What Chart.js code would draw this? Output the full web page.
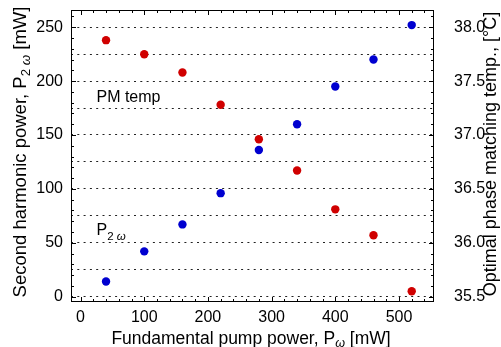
<!DOCTYPE html>
<html>
<head>
<meta charset="utf-8">
<script src="https://cdn.jsdelivr.net/npm/chart.js@4.4.1/dist/chart.umd.min.js"></script>
<style>
  html, body { margin: 0; padding: 0; background: #fff; }
  #wrap { width: 501px; height: 347px; }
</style>
</head>
<body>
<div id="wrap"><canvas id="shgChart"></canvas></div>
<script>
// pump power steps (mW)
const pumpPower = [40, 100, 160, 220, 280, 340, 400, 460, 520];
// second harmonic output (mW), left axis
const shgPower = [14, 42, 67, 96, 136, 160, 195, 220, 252];
// phase matching temperature (deg C), right axis
const pmTemp = [37.88, 37.75, 37.58, 37.28, 36.96, 36.67, 36.31, 36.07, 35.55];

const xTicks = [0, 100, 200, 300, 400, 500];
const powerTicks = [0, 50, 100, 150, 200, 250];
const tempTicks = [35.5, 36.0, 36.5, 37.0, 37.5, 38.0];

const FONT = '"Liberation Sans", Arial, sans-serif';
const RED = 'rgb(208, 0, 0)';
const BLUE = 'rgb(0, 0, 208)';

// draws a run of text pieces, some as subscripts
function drawRich(ctx, parts, x, y, size, align) {
  const fontFor = (p) => (p.italic ? 'italic ' : '') + (p.sub ? size * 0.72 : size) + 'px ' + FONT;
  let w = 0;
  parts.forEach(p => { ctx.font = fontFor(p); w += ctx.measureText(p.text).width; });
  let cx = align === 'center' ? x - w / 2 : x;
  ctx.textAlign = 'left';
  parts.forEach(p => {
    ctx.font = fontFor(p);
    ctx.fillText(p.text, cx, y + (p.sub ? size * 0.28 : 0));
    cx += ctx.measureText(p.text).width;
  });
}

const framePlugin = {
  id: 'frame',
  afterDraw(chart) {
    const ctx = chart.ctx;
    const a = chart.chartArea;
    const xs = chart.scales.x, ys = chart.scales.y, ts = chart.scales.y2;
    ctx.save();
    ctx.strokeStyle = '#000';
    ctx.lineWidth = 1;
    ctx.strokeRect(Math.round(a.left) + 0.5, Math.round(a.top) + 0.5,
      Math.round(a.right - a.left) - 1, Math.round(a.bottom - a.top) - 1);

    // inward ticks, top and bottom
    ctx.beginPath();
    for (let v = 0; v <= 540; v += 20) {
      const px = Math.round(xs.getPixelForValue(v)) + 0.5;
      const len = v % 100 === 0 ? 5 : 3;
      ctx.moveTo(px, a.bottom); ctx.lineTo(px, a.bottom - len);
      ctx.moveTo(px, a.top); ctx.lineTo(px, a.top + len);
    }
    // inward ticks, left
    for (let v = 0; v <= 260; v += 10) {
      const py = Math.round(ys.getPixelForValue(v)) + 0.5;
      const len = v % 50 === 0 ? 5 : 3;
      ctx.moveTo(a.left, py); ctx.lineTo(a.left + len, py);
    }
    // inward ticks, right
    for (let i = 0; i <= 26; i++) {
      const v = 35.5 + i * 0.1;
      const py = Math.round(ts.getPixelForValue(v)) + 0.5;
      const len = i % 5 === 0 ? 5 : 3;
      ctx.moveTo(a.right, py); ctx.lineTo(a.right - len, py);
    }
    ctx.stroke();

    ctx.fillStyle = '#000';
    ctx.textBaseline = 'alphabetic';
    // series labels inside the plot
    drawRich(ctx, [{ text: 'PM temp' }],
      xs.getPixelForValue(25), ys.getPixelForValue(181), 16, 'left');
    drawRich(ctx, [{ text: 'P' }, { text: '2 ', sub: true }, { text: 'ω', sub: true, italic: true }],
      xs.getPixelForValue(25), ys.getPixelForValue(57), 16, 'left');

    // axis titles
    ctx.textBaseline = 'middle';
    drawRich(ctx, [{ text: 'Fundamental pump power, P' }, { text: 'ω', sub: true, italic: true }, { text: ' [mW]' }],
      251, 339, 17.5, 'center');

    ctx.save();
    ctx.translate(21, 152);
    ctx.rotate(-Math.PI / 2);
    drawRich(ctx, [{ text: 'Second harmonic power, P' }, { text: '2 ', sub: true }, { text: 'ω', sub: true, italic: true }, { text: ' [mW]' }],
      0, 0, 18.5, 'center');
    ctx.restore();

    ctx.save();
    ctx.translate(491.5, 154);
    ctx.rotate(-Math.PI / 2);
    drawRich(ctx, [{ text: 'Optimal phase matching temp., [°C]' }], 0, 0, 18, 'center');
    ctx.restore();

    ctx.restore();
  }
};

// fixed axis sizes, no extra room for overhanging labels
const fixX = (s) => { s.height = 45; s.paddingLeft = 0; s.paddingRight = 0; };
const fixY = (w) => (s) => { s.width = w; s.paddingTop = 0; s.paddingBottom = 0; };

const config = {
  type: 'scatter',
  data: {
    datasets: [
      {
        label: 'P2w',
        data: pumpPower.map((p, i) => ({ x: p, y: shgPower[i] })),
        yAxisID: 'y',
        backgroundColor: BLUE,
        borderWidth: 0,
        pointRadius: 4.2
      },
      {
        label: 'PM temp',
        data: pumpPower.map((p, i) => ({ x: p, y: pmTemp[i] })),
        yAxisID: 'y2',
        backgroundColor: RED,
        borderWidth: 0,
        pointRadius: 4.2
      }
    ]
  },
  options: {
    responsive: true,
    maintainAspectRatio: false,
    animation: false,
    layout: { padding: { top: 10, left: 0, right: 0, bottom: 0 } },
    plugins: {
      legend: { display: false },
      tooltip: { enabled: false }
    },
    scales: {
      x: {
        type: 'linear',
        min: -15,
        max: 555,
        afterFit: fixX,
        afterBuildTicks: (s) => { s.ticks = xTicks.map(v => ({ value: v })); },
        grid: { display: false, drawTicks: false },
        border: { display: false },
        ticks: {
          color: '#000',
          padding: 6,
          maxRotation: 0,
          font: { family: FONT, size: 16 }
        }
      },
      y: {
        type: 'linear',
        position: 'left',
        min: -5,
        max: 266,
        afterFit: fixY(71),
        ticks: {
          stepSize: 25,
          includeBounds: false,
          color: '#000',
          padding: 8,
          font: { family: FONT, size: 16 },
          callback: (v) => powerTicks.includes(v) ? String(v) : ''
        },
        grid: { color: '#222', lineWidth: 1, drawTicks: false },
        border: { display: false, dash: [2, 4.3] }
      },
      y2: {
        type: 'linear',
        position: 'right',
        min: 35.45,
        max: 38.16,
        afterFit: fixY(67),
        afterBuildTicks: (s) => { s.ticks = tempTicks.map(v => ({ value: v })); },
        ticks: {
          color: '#000',
          padding: 20,
          font: { family: FONT, size: 16 },
          callback: (v) => Number(v).toFixed(1)
        },
        grid: { display: false, drawTicks: false },
        border: { display: false }
      }
    }
  },
  plugins: [framePlugin]
};

new Chart(document.getElementById('shgChart'), config);
</script>
</body>
</html>
